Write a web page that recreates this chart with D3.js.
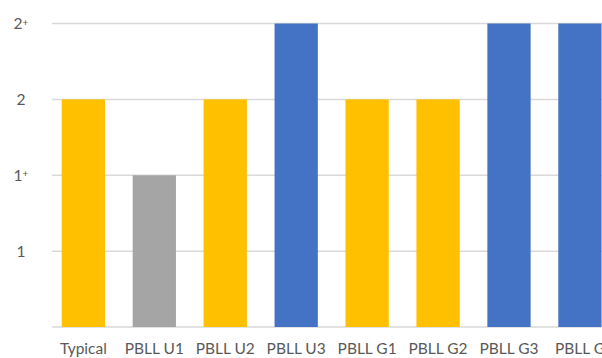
<!DOCTYPE html>
<html>
<head>
<meta charset="utf-8">
<script src="https://cdn.jsdelivr.net/npm/d3@7"></script>
<style>
  body { margin: 0; background: #fff; }
  text { font-family: Lato, "Open Sans", sans-serif; fill: #595959; }
</style>
</head>
<body>
<div id="chart"></div>
<script>
const categories = ['Typical', 'PBLL U1', 'PBLL U2', 'PBLL U3', 'PBLL G1', 'PBLL G2', 'PBLL G3', 'PBLL G'];
const levels = [3, 2, 3, 4, 3, 3, 4, 4];
const barColors = ['#FFC000', '#A5A5A5', '#FFC000', '#4472C4', '#FFC000', '#FFC000', '#4472C4', '#4472C4'];
const tickLevels = [1, 2, 3, 4];
const tickNames = ['1', '1', '2', '2'];
const tickPlus = [false, true, false, true];

const svgWidth = 602;
const svgHeight = 358;

const svg = d3.select('#chart')
  .append('svg')
    .attr('width', svgWidth)
    .attr('height', svgHeight);

const xScale = d3.scaleBand()
    .domain(categories)
    .range([47.9, 615.4])
    .paddingInner(0.39)
    .paddingOuter(0.195);

const yScale = d3.scaleLinear()
    .domain([0, 4])
    .range([327, 23.5]);

// gridlines + baseline
svg.append('g').selectAll('line')
  .data([0].concat(tickLevels))
  .enter().append('line')
    .attr('x1', 52)
    .attr('x2', svgWidth)
    .attr('y1', d => yScale(d))
    .attr('y2', d => yScale(d))
    .attr('stroke', '#D9D9D9')
    .attr('stroke-width', 1.5);

// bars
svg.append('g').selectAll('rect')
  .data(levels)
  .enter().append('rect')
    .attr('x', (d, i) => xScale(categories[i]))
    .attr('width', xScale.bandwidth())
    .attr('y', d => yScale(d))
    .attr('height', d => yScale(0) - yScale(d))
    .attr('fill', (d, i) => barColors[i]);

// y tick labels
const yLabels = svg.append('g').selectAll('text')
  .data(tickLevels)
  .enter().append('text')
    .attr('x', 21)
    .attr('y', d => yScale(d) + 5.5)
    .attr('text-anchor', 'middle')
    .attr('font-size', 15.5);

yLabels.append('tspan').text((d, i) => tickNames[i]);
yLabels.filter((d, i) => tickPlus[i])
  .append('tspan')
    .attr('font-size', 10)
    .attr('dy', -3.5)
    .text('+');

// x labels
svg.append('g').selectAll('text')
  .data(categories)
  .enter().append('text')
    .attr('x', d => xScale(d) + xScale.bandwidth() / 2)
    .attr('y', 354)
    .attr('text-anchor', 'middle')
    .attr('font-size', 15.5)
    .text(d => d);
</script>
</body>
</html>
